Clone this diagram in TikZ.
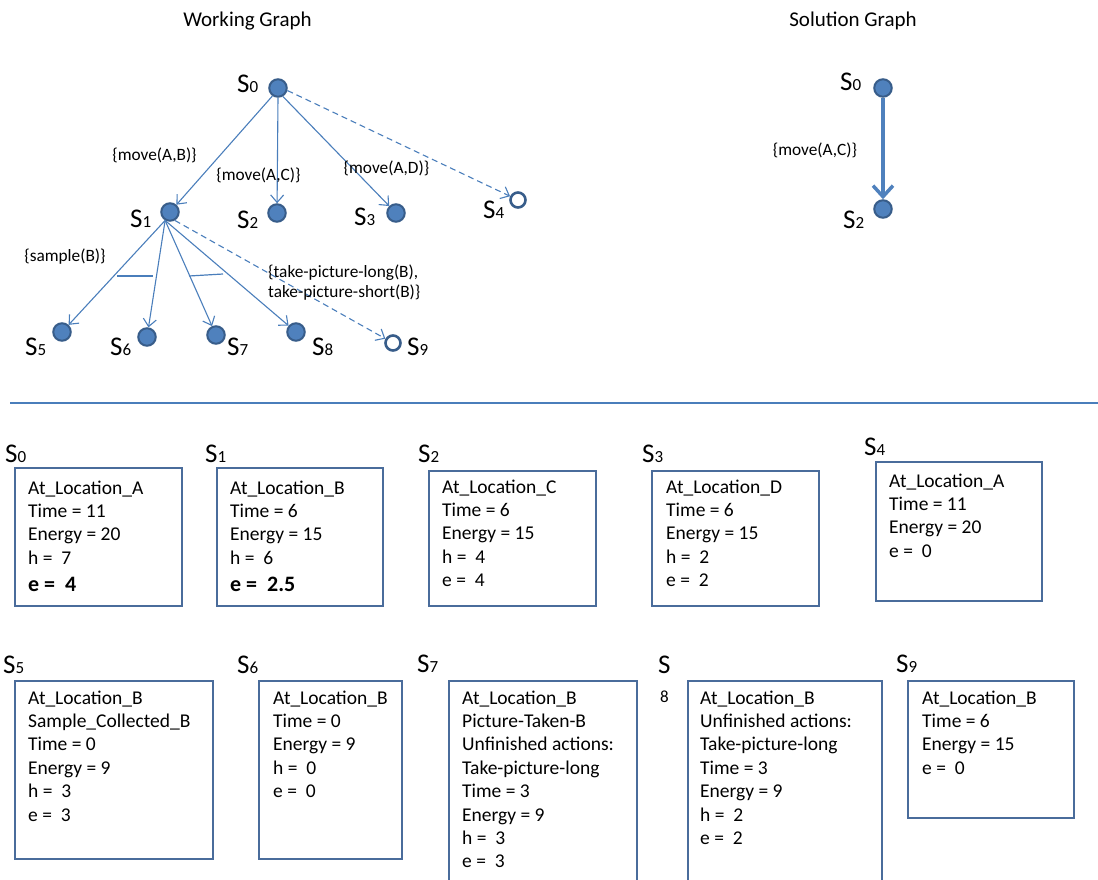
\documentclass[tikz,border=0pt]{standalone}
\usepackage{fontspec}
\setmainfont{Carlito}
\usetikzlibrary{arrows.meta}

\definecolor{nodefill}{HTML}{4F81BD}
\definecolor{nodeline}{HTML}{385D8A}
\definecolor{edgeblue}{HTML}{4A7EBB}
\definecolor{boxline}{HTML}{4A6C9B}

% state name: large S followed by a smaller index on the same baseline
\newcommand{\statelbl}[1]{{\fontsize{27}{27}\selectfont S}{\fontsize{17}{17}\selectfont #1}}
\newcommand{\boxtxt}{\fontsize{19.5}{23.4}\selectfont}

\tikzset{
  statedot/.style={circle, fill=nodefill, draw=nodeline, line width=2pt, minimum size=17.5pt, inner sep=0pt},
  openstate/.style={circle, fill=white, draw=nodeline, line width=2.6pt, minimum size=15pt, inner sep=0pt},
  stname/.style={anchor=base west, inner sep=0pt},
  edgelbl/.style={inner sep=0pt, font=\fontsize{17.3}{19.5}\selectfont},
  trans/.style={draw=edgeblue, line width=1.1pt, -{Straight Barb[length=7.5pt,width=13pt,line width=1.1pt]}},
  pending/.style={trans, dashed, dash pattern=on 6pt off 4pt},
  statebox/.style={draw=boxline, line width=1.4pt},
  boxtext/.style={anchor=north west, inner sep=0pt, align=left, font=\boxtxt},
  title/.style={anchor=base, inner sep=0pt, font=\fontsize{21}{24}\selectfont},
}

\begin{document}
\begin{tikzpicture}[x=1pt, y=-1pt]
\useasboundingbox (0,0) rectangle (1098,879);

% ---------- titles ----------
\node[title] (twork) at (247.5,26.7) {Working Graph};
\node[title] (tsol) at (853,26.7) {Solution Graph};

% ---------- working graph ----------
\node[statedot] (s0) at (278,88) {};
\node[statedot] (s1) at (170,212) {};
\node[statedot] (s2) at (277,213) {};
\node[statedot] (s3) at (396,213) {};
\node[openstate] (s4) at (518,200) {};
\node[statedot] (s5) at (62,332) {};
\node[statedot] (s6) at (147,337) {};
\node[statedot] (s7) at (216,335) {};
\node[statedot] (s8) at (296,332) {};
\node[openstate] (s9) at (393,343) {};

\node[stname] (l0) at (237,92) {\statelbl{0}};
\node[stname] (l1) at (130,227) {\statelbl{1}};
\node[stname] (l2) at (237,228) {\statelbl{2}};
\node[stname] (l3) at (354,225) {\statelbl{3}};
\node[stname] (l4) at (483,218) {\statelbl{4}};
\node[stname] (l5) at (25,355) {\statelbl{5}};
\node[stname] (l6) at (110,355) {\statelbl{6}};
\node[stname] (l7) at (227,355) {\statelbl{7}};
\node[stname] (l8) at (312,355) {\statelbl{8}};
\node[stname] (l9) at (407,355) {\statelbl{9}};

\draw[trans] (s0.235) -- (s1);
\draw[trans] (s0.270) -- (s2);
\draw[trans] (s0.300) -- (s3);
\draw[pending] (s0.-15) -- (s4);

\draw[trans] (s1.240) -- (s5);
\draw[trans] (s1.240) -- (s6);
\draw[trans] (s1.240) -- (s7);
\draw[trans] (s1.240) -- (s8);
\draw[pending] (s1.-60) -- (s9);

% arcs joining the branches of one action
\coordinate (arcAa) at (117,276);
\coordinate (arcAb) at (153,276);
\coordinate (arcBa) at (189,276);
\coordinate (arcBb) at (223,274);
\draw[edgeblue, line width=2pt] (arcAa) -- (arcAb);
\draw[edgeblue, line width=1.2pt] (arcBa) -- (arcBb);

\node[edgelbl] (e01) at (154.5,155) {\{move(A,B)\}};
\node[edgelbl] (e02) at (258.5,175) {\{move(A,C)\}};
\node[edgelbl] (e03) at (386.5,168) {\{move(A,D)\}};
\node[edgelbl] (e15) at (65,257) {\{sample(B)\}};
\node[edgelbl, anchor=north west, align=left] (e1p) at (268,265) {\{take-picture-long(B),\\take-picture-short(B)\}};

% ---------- solution graph ----------
\node[statedot] (g0) at (883,88) {};
\node[statedot] (g2) at (883,209) {};
\node[stname] (gl0) at (840,90) {\statelbl{0}};
\node[stname] (gl2) at (843,228) {\statelbl{2}};
\draw[draw=nodefill, line width=4pt, -{Straight Barb[length=11pt,width=20pt,line width=3.5pt]}] (g0) -- (g2);
\node[edgelbl] (ge02) at (815,150) {\{move(A,C)\}};

% ---------- separator ----------
\coordinate (sepL) at (10,403);
\coordinate (sepR) at (1098,403);
\draw[edgeblue, line width=1.3pt] (sepL) -- (sepR);

% ---------- state descriptions, first row ----------
\node[stname] (b0n) at (5,462) {\statelbl{0}};
\draw[statebox] (15,468) rectangle (182,606);
\node[boxtext] (b0t) at (28,477.6) {\strut At\_Location\_A\\Time = 11\\Energy = 20\\h =\ \ 7\\[4pt]{\bfseries\fontsize{22}{23.4}\selectfont e =\ \ 4}};

\node[stname] (b1n) at (205,462) {\statelbl{1}};
\draw[statebox] (217,468) rectangle (383,606);
\node[boxtext] (b1t) at (230,477.6) {\strut At\_Location\_B\\Time = 6\\Energy = 15\\h =\ \ 6\\[4pt]{\bfseries\fontsize{22}{23.4}\selectfont e =\ \ 2.5}};

\node[stname] (b2n) at (418,462) {\statelbl{2}};
\draw[statebox] (429,471) rectangle (596,606);
\node[boxtext] (b2t) at (442,476.6) {\strut At\_Location\_C\\Time = 6\\Energy = 15\\h =\ \ 4\\e =\ \ 4};

\node[stname] (b3n) at (642,462) {\statelbl{3}};
\draw[statebox] (652,471) rectangle (819,606);
\node[boxtext] (b3t) at (666,476.6) {\strut At\_Location\_D\\Time = 6\\Energy = 15\\h =\ \ 2\\e =\ \ 2};

\node[stname] (b4n) at (864,455) {\statelbl{4}};
\draw[statebox] (876,462) rectangle (1042,601);
\node[boxtext] (b4t) at (889,470.6) {\strut At\_Location\_A\\Time = 11\\Energy = 20\\e =\ \ 0};

% ---------- state descriptions, second row ----------
\node[stname] (b5n) at (3,673) {\statelbl{5}};
\draw[statebox] (15,681) rectangle (213,859);
\node[boxtext] (b5t) at (28,687.6) {\strut At\_Location\_B\\Sample\_Collected\_B\\Time = 0\\Energy = 9\\h =\ \ 3\\e =\ \ 3};

\node[stname] (b6n) at (237,673) {\statelbl{6}};
\draw[statebox] (259,681) rectangle (402,859);
\node[boxtext] (b6t) at (273,687.6) {\strut At\_Location\_B\\Time = 0\\Energy = 9\\h =\ \ 0\\e =\ \ 0};

\node[stname] (b7n) at (417,672) {\statelbl{7}};
\draw[statebox] (449,900) |- (637,681) -- (637,900);
\node[boxtext] (b7t) at (462,687.6) {\strut At\_Location\_B\\Picture-Taken-B\\Unfinished actions:\\Take-picture-long\\Time = 3\\Energy = 9\\h =\ \ 3\\e =\ \ 3};

\node[stname] (b8n) at (658,673) {\fontsize{27}{27}\selectfont S};
\node[stname] (b8d) at (660,702) {\fontsize{17}{17}\selectfont 8};
\draw[statebox] (688,900) |- (882,681) -- (882,900);
\node[boxtext] (b8t) at (700,687.6) {\strut At\_Location\_B\\Unfinished actions:\\Take-picture-long\\Time = 3\\Energy = 9\\h =\ \ 2\\e =\ \ 2};

\node[stname] (b9n) at (896,672) {\statelbl{9}};
\draw[statebox] (908,681) rectangle (1074,818);
\node[boxtext] (b9t) at (922,687.6) {\strut At\_Location\_B\\Time = 6\\Energy = 15\\e =\ \ 0};

\end{tikzpicture}
\end{document}
